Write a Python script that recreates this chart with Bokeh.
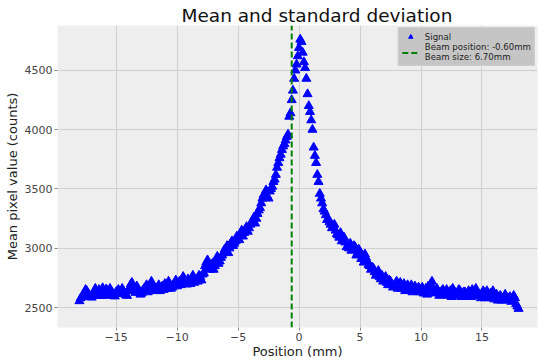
from bokeh.plotting import figure
from bokeh.models import Range1d, Legend, LegendItem, FixedTicker, Title
from bokeh.embed import file_html
from bokeh.resources import INLINE

# ---- data ----
# samples on the even grid (-18.0, -17.8, ..., 18.0)
signal_a = [
    2555, 2590, 2620, 2640, 2600, 2585, 2630, 2610, 2650, 2600, 2625, 2655, 2610,
    2640, 2600, 2630, 2650, 2615, 2640, 2605, 2640, 2695, 2660, 2625, 2650, 2610,
    2645, 2670, 2630, 2660, 2690, 2645, 2670, 2640, 2680, 2700, 2660, 2690, 2670,
    2710, 2680, 2720, 2700, 2740, 2695, 2720, 2750, 2710, 2740, 2770, 2730,
    2790, 2880, 2840, 2860, 2820, 2900, 2870, 2920, 2960, 3000, 2960, 3040, 3020,
    3060, 3080, 3120, 3100, 3160, 3140, 3200, 3230, 3210, 3290, 3340, 3420,
    3460, 3440, 3480, 3520, 3580, 3680, 3760, 3830, 3880, 3940, 4110, 4250, 4430,
    4550, 4690, 4740, 4570, 4430, 4200, 4080, 3850, 3720, 3560, 3420, 3330,
    3280, 3250, 3200, 3180, 3150, 3110, 3130, 3070, 3050, 3020, 3040, 2990, 3010,
    2960, 2970, 2930, 2950, 2890, 2850, 2840, 2800, 2790, 2760, 2770, 2740,
    2710, 2730, 2700, 2680, 2720, 2690, 2660, 2700, 2670, 2650, 2690, 2660, 2640,
    2670, 2650, 2620, 2660, 2680, 2700, 2650, 2620, 2640, 2610, 2650, 2620,
    2600, 2640, 2660, 2620, 2600, 2640, 2610, 2630, 2590, 2620, 2650, 2610, 2630,
    2600, 2620, 2580, 2640, 2600, 2590, 2570, 2610, 2580, 2560, 2590, 2560, 2580,
    2550, 2600, 2530, 2490,
]
# samples on the odd grid (-17.9, -17.7, ..., 17.9)
signal_b = [
    2580, 2610, 2650, 2620, 2590, 2605, 2660, 2600, 2630, 2665, 2600, 2635, 2660,
    2620, 2595, 2640, 2625, 2660, 2620, 2600, 2660, 2710, 2640, 2680, 2630, 2620,
    2660, 2690, 2640, 2720, 2660, 2640, 2690, 2660, 2650, 2690, 2720, 2660, 2690,
    2730, 2700, 2690, 2760, 2720, 2740, 2700, 2770, 2730, 2720, 2760, 2780,
    2850, 2900, 2820, 2870, 2850, 2930, 2890, 2940, 2990, 3020, 3000, 3060, 3040,
    3100, 3070, 3150, 3130, 3180, 3170, 3220, 3260, 3250, 3320, 3380, 3450,
    3490, 3420, 3500, 3560, 3620, 3720, 3790, 3860, 3910, 3960, 4140, 4330, 4500,
    4620, 4760, 4650, 4520, 4300, 4150, 4000, 3780, 3620, 3460, 3380, 3310,
    3240, 3220, 3170, 3200, 3120, 3090, 3060, 3090, 3010, 3000, 2980, 3020, 2940,
    2990, 2910, 2880, 2920, 2860, 2820, 2830, 2770, 2810, 2740, 2720, 2760,
    2690, 2720, 2670, 2700, 2660, 2710, 2680, 2640, 2690, 2660, 2630, 2680, 2650,
    2630, 2670, 2640, 2610, 2650, 2720, 2630, 2660, 2600, 2640, 2610, 2650,
    2620, 2590, 2640, 2610, 2650, 2590, 2630, 2600, 2640, 2590, 2620, 2660, 2600,
    2580, 2640, 2600, 2580, 2620, 2640, 2590, 2560, 2600, 2570, 2610, 2570, 2590,
    2560, 2580, 2510,
]
position_a = [round(-18.0 + 0.2 * i, 2) for i in range(len(signal_a))]
position_b = [round(-17.9 + 0.2 * i, 2) for i in range(len(signal_b))]
position = position_a + position_b
signal = signal_a + signal_b

beam_position = -0.60
beam_size = 6.70
x_ticks = [-15, -10, -5, 0, 5, 10, 15]
y_ticks = [2500, 3000, 3500, 4000, 4500]

title_text = "Mean and standard deviation"
x_label = "Position (mm)"
y_label = "Mean pixel value (counts)"

# ---- figure ----
y0, y1 = 2332, 4878
p = figure(width=538, height=361, output_backend="svg", toolbar_location=None,
           x_range=Range1d(-19.8, 19.55), y_range=Range1d(y0, y1),
           min_border_left=57, min_border_right=1, min_border_top=25,
           min_border_bottom=33)
p.title = None
p.add_layout(Title(text=title_text, align="left", text_font="DejaVu Sans",
                   text_font_size="18.5px", text_font_style="normal",
                   text_color="#111111", standoff=0, offset=124), "above")

p.background_fill_color = "#eeeeee"
p.border_fill_color = "white"
p.outline_line_color = None

sig = p.scatter(position, signal, marker="triangle", size=9,
                fill_color="#0000ff", line_color="#0000ff")
bl = p.line([beam_position, beam_position], [y0, y1], line_color="#008000",
            line_width=2, line_dash="6 3")

for ax in (p.xaxis, p.yaxis):
    ax.axis_line_color = None
    ax.major_tick_line_color = "#888888"
    ax.major_tick_out = 3
    ax.major_tick_in = 0
    ax.minor_tick_line_color = None
    ax.major_label_text_font = "DejaVu Sans"
    ax.major_label_text_font_size = "11px"
    ax.major_label_text_color = "#444444"
    ax.axis_label_text_font = "DejaVu Sans"
    ax.axis_label_text_font_size = "13px"
    ax.axis_label_text_font_style = "normal"
    ax.axis_label_text_color = "#222222"

p.xaxis.ticker = FixedTicker(ticks=x_ticks)
p.yaxis.ticker = FixedTicker(ticks=y_ticks)
p.xaxis.major_label_overrides = {t: (str(t).replace("-", "\u2212")) for t in x_ticks}
p.xaxis.axis_label = x_label
p.yaxis.axis_label = y_label
p.xaxis.axis_label_standoff = 0
p.yaxis.axis_label_standoff = 2
p.xaxis.major_label_standoff = 2
p.yaxis.major_label_standoff = 2

p.grid.grid_line_color = "#cfcfcf"
p.grid.grid_line_width = 1

legend = Legend(items=[
    LegendItem(label="Signal", renderers=[sig]),
    LegendItem(label="Beam position: %.2fmm\nBeam size: %.2fmm" % (beam_position, beam_size),
               renderers=[bl]),
], location="top_right")
legend.background_fill_color = "#c5c5c5"
legend.background_fill_alpha = 1
legend.border_line_color = "#d5d5d5"
legend.label_text_font = "DejaVu Sans"
legend.label_text_font_size = "8.6px"
legend.label_text_color = "#222222"
legend.label_text_line_height = 1.15
legend.margin = 2
legend.padding = 3
legend.spacing = 0
legend.glyph_width = 17
legend.glyph_height = 11
legend.label_standoff = 6
legend.label_height = 10
p.add_layout(legend)

open("out.html", "w").write(file_html(p, INLINE))
